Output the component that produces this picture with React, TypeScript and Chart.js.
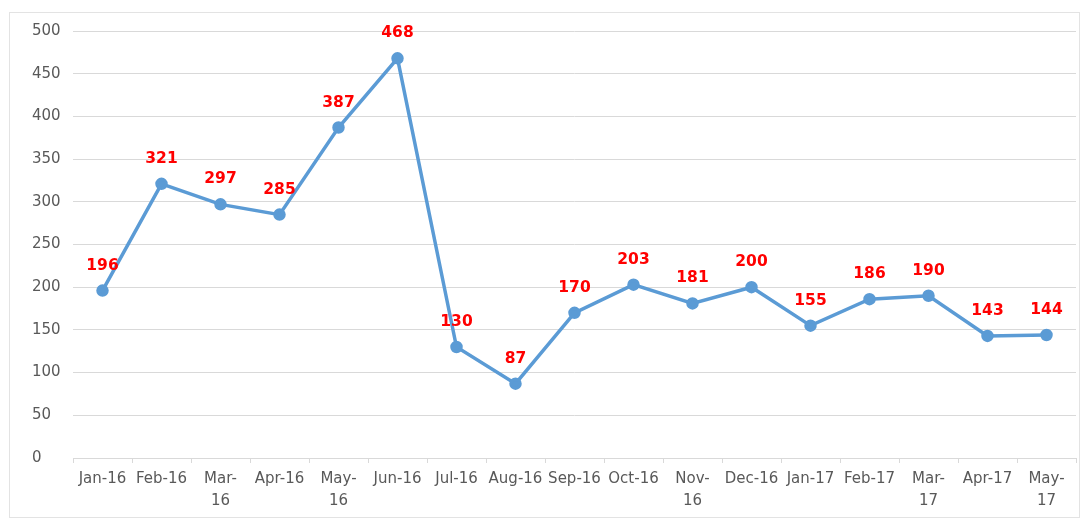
import React, { useEffect, useRef } from "react";
import { Chart, registerables } from "chart.js";

Chart.register(...registerables);

const categories: (string | string[])[] = [
  "Jan-16", "Feb-16", ["Mar-", "16"], "Apr-16", ["May-", "16"], "Jun-16",
  "Jul-16", "Aug-16", "Sep-16", "Oct-16", ["Nov-", "16"], "Dec-16",
  "Jan-17", "Feb-17", ["Mar-", "17"], "Apr-17", ["May-", "17"],
];
const values: number[] = [196, 321, 297, 285, 387, 468, 130, 87, 170, 203, 181, 200, 155, 186, 190, 143, 144];
const yMin = 0;
const yMax = 500;
const yStep = 50;

const LINE_COLOR = "#5B9BD5";
const GRID_COLOR = "#d9d9d9";
const TEXT_COLOR = "#595959";
const LABEL_COLOR = "#FF0000";

const borderPlugin = {
  id: "outerBorder",
  beforeDraw(chart: any) {
    const ctx = chart.ctx;
    ctx.save();
    ctx.strokeStyle = "#e3e3e3";
    ctx.lineWidth = 1;
    ctx.strokeRect(9.5, 12.5, 1070, 505);
    ctx.restore();
  },
};

const dataLabelPlugin = {
  id: "valueLabels",
  afterDatasetsDraw(chart: any) {
    const ctx = chart.ctx;
    const meta = chart.getDatasetMeta(0);
    const data = chart.data.datasets[0].data as number[];
    ctx.save();
    ctx.fillStyle = LABEL_COLOR;
    ctx.font = "bold 15.5px 'DejaVu Sans'";
    ctx.textAlign = "center";
    ctx.textBaseline = "middle";
    meta.data.forEach((pt: any, i: number) => {
      ctx.fillText(String(data[i]), pt.x, pt.y - 25);
    });
    ctx.restore();
  },
};

export default function App() {
  const canvasRef = useRef<HTMLCanvasElement | null>(null);

  useEffect(() => {
    if (!canvasRef.current) return;
    const chart = new Chart(canvasRef.current, {
      type: "line",
      data: {
        labels: categories,
        datasets: [
          {
            data: values,
            borderColor: LINE_COLOR,
            backgroundColor: LINE_COLOR,
            borderWidth: 3.5,
            pointRadius: 4.5,
            pointBackgroundColor: LINE_COLOR,
            pointBorderColor: LINE_COLOR,
            tension: 0,
          },
        ],
      },
      options: {
        responsive: true,
        maintainAspectRatio: false,
        animation: false,
        layout: { padding: { left: 32, right: 7, top: 31, bottom: 4 } },
        plugins: {
          legend: { display: false },
          tooltip: { enabled: false },
        },
        scales: {
          x: {
            offset: true,
            grid: {
              display: true,
              drawOnChartArea: false,
              drawTicks: true,
              tickLength: 5,
              offset: true,
              color: GRID_COLOR,
            },
            border: { display: true, color: GRID_COLOR, width: 1 },
            ticks: {
              color: TEXT_COLOR,
              font: { family: "'DejaVu Sans'", size: 15, lineHeight: 1.45 },
              padding: 5,
              maxRotation: 0,
              minRotation: 0,
              autoSkip: false,
            },
            afterFit(scale: any) {
              scale.height = 59;
            },
          },
          y: {
            min: yMin,
            max: yMax,
            grid: { color: GRID_COLOR, drawTicks: false, lineWidth: 1 },
            border: { display: false },
            ticks: {
              stepSize: yStep,
              color: TEXT_COLOR,
              font: { family: "'DejaVu Sans'", size: 15 },
              crossAlign: "far",
              padding: 0,
            },
            afterFit(scale: any) {
              scale.width = 41;
            },
          },
        },
      },
      plugins: [borderPlugin, dataLabelPlugin],
    });
    return () => chart.destroy();
  }, []);

  return (
    <div style={{ position: "absolute", left: 0, top: 0, width: 1084, height: 521, background: "#fff" }}>
      <canvas ref={canvasRef} />
    </div>
  );
}
